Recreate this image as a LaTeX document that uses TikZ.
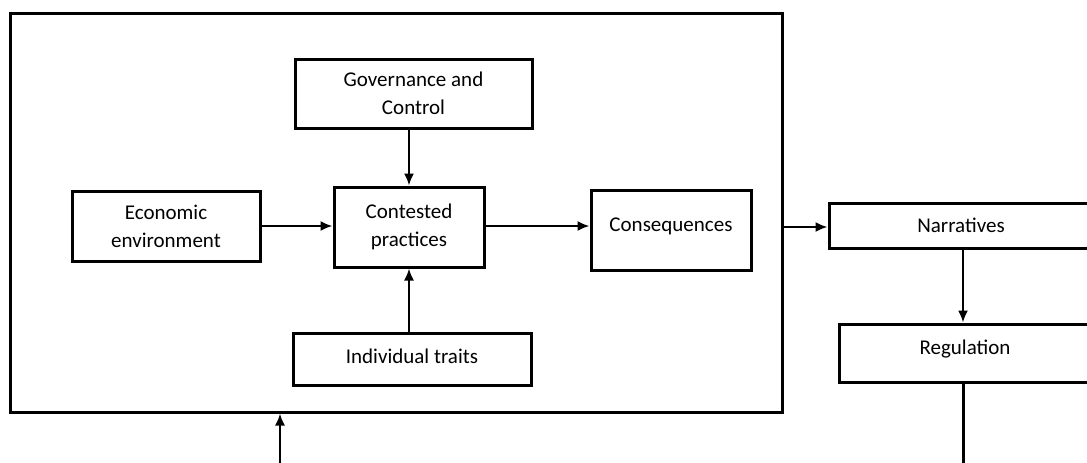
\documentclass[tikz,border=0pt]{standalone}
\usepackage{fontspec}
\setmainfont{Carlito}
\usetikzlibrary{arrows.meta}

\tikzstyle{box} = [draw, line width=3pt, align=center, inner sep=0pt, font=\fontsize{21}{28}\selectfont]
\tikzstyle{flow} = [line width=2pt, -{Latex[length=12pt,width=10pt]}]

\begin{document}
\begin{tikzpicture}[x=1pt, y=-1pt]
\useasboundingbox (0,0) rectangle (1087,463);
\clip (0,0) rectangle (1087,463);
% outer frame
\node[draw, line width=3pt, minimum width=772pt, minimum height=399pt, inner sep=0pt] (frame) at (396,212.5) {};
% inner boxes
\node[box, minimum width=237pt, minimum height=69pt] (gov) at (413.5,93.5) {Governance and\\Control};
\node[box, minimum width=188pt, minimum height=70pt] (econ) at (166,226) {Economic\\environment};
\node[box, minimum width=150pt, minimum height=80pt] (cont) at (409,227) {\raisebox{3pt}{\begin{tabular}{@{}c@{}}Contested\\practices\end{tabular}}};
\node[box, minimum width=160pt, minimum height=80pt] (cons) at (671,230) {\raisebox{10pt}{Consequences}};
\node[box, minimum width=238pt, minimum height=52pt] (indiv) at (412,359) {\raisebox{6pt}{Individual traits}};
% right side
\node[box, minimum width=264pt, minimum height=45pt] (narr) at (961,225.5) {\raisebox{1pt}{Narratives}};
\node[box, minimum width=252pt, minimum height=58pt] (reg) at (965,353) {\raisebox{12pt}{Regulation}};
\coordinate (in) at (280,463);
\coordinate (out) at (963,463);
% connectors
\draw[flow] (gov.south -| cont.north) -- (cont.north);
\draw[flow] (indiv.north -| cont.south) -- (cont.south);
\draw[flow] (econ.east) -- (econ.east -| cont.west);
\draw[flow] (cont.east |- 0,226) -- (cons.west |- 0,226);
\draw[flow] (frame.east |- 0,227) -- (narr.west |- 0,227);
\draw[flow] (narr.south -| 963,0) -- (reg.north -| 963,0);
\draw[line width=3pt] (reg.south -| out) -- (out);
\draw[flow] (in) -- (in |- frame.south);
\end{tikzpicture}
\end{document}
